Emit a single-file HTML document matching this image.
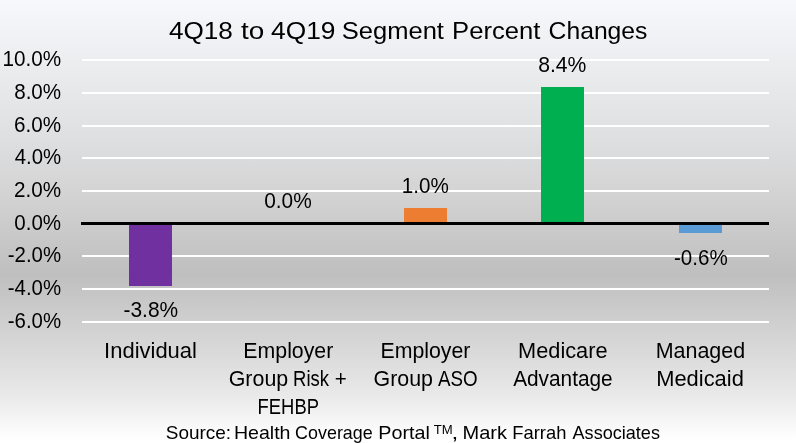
<!DOCTYPE html>
<html><head><meta charset="utf-8"><title>4Q18 to 4Q19 Segment Percent Changes</title>
<style>
html,body{margin:0;padding:0;}
body{width:796px;height:443px;overflow:hidden;background:#fff;}
svg{display:block;}
text{font-family:"Liberation Sans",sans-serif;fill:#000;}
</style></head><body>
<svg width="796" height="443" viewBox="0 0 796 443">
<defs>
<linearGradient id="bg" x1="0" y1="0" x2="0" y2="1">
<stop offset="0" stop-color="#f6f8fc"/>
<stop offset="0.18" stop-color="#e9eaec"/>
<stop offset="0.293" stop-color="#e0e1e2"/>
<stop offset="0.43" stop-color="#d4d4d5"/>
<stop offset="0.565" stop-color="#c5c5c5"/>
<stop offset="0.62" stop-color="#bfbfbf"/>
<stop offset="0.767" stop-color="#d5d5d5"/>
<stop offset="0.898" stop-color="#eaeaea"/>
<stop offset="0.992" stop-color="#ffffff"/>
<stop offset="1" stop-color="#ffffff"/>
</linearGradient>
</defs>
<rect x="0" y="0" width="796" height="443" fill="url(#bg)"/>
<g fill="#fff" shape-rendering="crispEdges"><rect x="82" y="59" width="687" height="2"/><rect x="82" y="92" width="687" height="2"/><rect x="82" y="125" width="687" height="2"/><rect x="82" y="157" width="687" height="2"/><rect x="82" y="190" width="687" height="2"/><rect x="82" y="255" width="687" height="2"/><rect x="82" y="288" width="687" height="2"/><rect x="82" y="321" width="687" height="2"/></g>
<g shape-rendering="crispEdges">
<rect x="129" y="223" width="43" height="63" fill="#7030a0"/>
<rect x="404" y="208" width="43" height="15" fill="#ed7d31"/>
<rect x="541" y="87" width="43" height="136" fill="#00b050"/>
<rect x="679" y="223" width="43" height="10" fill="#5b9bd5"/>
<rect x="81" y="222" width="688" height="3" fill="#000"/>
</g>
<text font-size="24.8"><tspan x="168.92" y="38.80" textLength="64.01" lengthAdjust="spacingAndGlyphs">4Q18</tspan> <tspan x="241.08" y="38.80" textLength="23.26" lengthAdjust="spacingAndGlyphs">to</tspan> <tspan x="271.02" y="38.80" textLength="64.42" lengthAdjust="spacingAndGlyphs">4Q19</tspan> <tspan x="341.75" y="38.80" textLength="102.21" lengthAdjust="spacingAndGlyphs">Segment</tspan> <tspan x="452.10" y="38.80" textLength="88.29" lengthAdjust="spacingAndGlyphs">Percent</tspan> <tspan x="548.56" y="38.80" textLength="98.92" lengthAdjust="spacingAndGlyphs">Changes</tspan></text>
<text x="2.43" y="66.40" font-size="21.4" textLength="58.71" lengthAdjust="spacingAndGlyphs">10.0%</text>
<text x="14.21" y="99.40" font-size="21.4" textLength="46.91" lengthAdjust="spacingAndGlyphs">8.0%</text>
<text x="14.07" y="132.40" font-size="21.4" textLength="47.06" lengthAdjust="spacingAndGlyphs">6.0%</text>
<text x="14.65" y="164.40" font-size="21.4" textLength="46.47" lengthAdjust="spacingAndGlyphs">4.0%</text>
<text x="14.07" y="197.40" font-size="21.4" textLength="47.06" lengthAdjust="spacingAndGlyphs">2.0%</text>
<text x="14.30" y="229.90" font-size="21.4" textLength="46.83" lengthAdjust="spacingAndGlyphs">0.0%</text>
<text x="7.80" y="262.40" font-size="21.4" textLength="53.32" lengthAdjust="spacingAndGlyphs">-2.0%</text>
<text x="7.80" y="295.40" font-size="21.4" textLength="53.32" lengthAdjust="spacingAndGlyphs">-4.0%</text>
<text x="7.80" y="328.40" font-size="21.4" textLength="53.32" lengthAdjust="spacingAndGlyphs">-6.0%</text>
<text x="123.48" y="316.50" font-size="21.4" textLength="54.66" lengthAdjust="spacingAndGlyphs">-3.8%</text>
<text x="264.19" y="207.70" font-size="21.4" textLength="47.55" lengthAdjust="spacingAndGlyphs">0.0%</text>
<text x="401.83" y="192.70" font-size="21.4" textLength="46.99" lengthAdjust="spacingAndGlyphs">1.0%</text>
<text x="538.19" y="71.80" font-size="21.4" textLength="48.26" lengthAdjust="spacingAndGlyphs">8.4%</text>
<text x="673.99" y="264.80" font-size="21.4" textLength="53.73" lengthAdjust="spacingAndGlyphs">-0.6%</text>
<text font-size="21.6"><tspan x="104.08" y="357.80" textLength="92.88" lengthAdjust="spacingAndGlyphs">Individual</tspan></text>
<text font-size="21.6"><tspan x="243.35" y="357.80" textLength="89.98" lengthAdjust="spacingAndGlyphs">Employer</tspan> <tspan x="228.73" y="385.50" textLength="59.45" lengthAdjust="spacingAndGlyphs">Group</tspan> <tspan x="293.08" y="385.50" textLength="35.99" lengthAdjust="spacingAndGlyphs">Risk</tspan> <tspan x="334.81" y="385.50" textLength="11.99" lengthAdjust="spacingAndGlyphs">+</tspan> <tspan x="257.59" y="413.50" textLength="61.37" lengthAdjust="spacingAndGlyphs">FEHBP</tspan></text>
<text font-size="21.6"><tspan x="380.45" y="357.80" textLength="89.98" lengthAdjust="spacingAndGlyphs">Employer</tspan> <tspan x="373.53" y="385.50" textLength="59.45" lengthAdjust="spacingAndGlyphs">Group</tspan> <tspan x="438.06" y="385.50" textLength="39.64" lengthAdjust="spacingAndGlyphs">ASO</tspan></text>
<text font-size="21.6"><tspan x="518.12" y="357.80" textLength="89.44" lengthAdjust="spacingAndGlyphs">Medicare</tspan> <tspan x="513.16" y="385.50" textLength="99.55" lengthAdjust="spacingAndGlyphs">Advantage</tspan></text>
<text font-size="21.6"><tspan x="655.64" y="357.80" textLength="89.53" lengthAdjust="spacingAndGlyphs">Managed</tspan> <tspan x="656.21" y="385.50" textLength="87.60" lengthAdjust="spacingAndGlyphs">Medicaid</tspan></text>
<text font-size="18.5"><tspan x="165.75" y="439.30" textLength="65.39" lengthAdjust="spacingAndGlyphs">Source:</tspan> <tspan x="233.90" y="439.30" textLength="56.57" lengthAdjust="spacingAndGlyphs">Health</tspan> <tspan x="295.11" y="439.30" textLength="77.58" lengthAdjust="spacingAndGlyphs">Coverage</tspan> <tspan x="378.38" y="439.30" textLength="51.53" lengthAdjust="spacingAndGlyphs">Portal</tspan> <tspan x="433.81" y="434.20" font-size="12" textLength="18.96" lengthAdjust="spacingAndGlyphs">TM</tspan><tspan x="451.64" y="439.30" textLength="6.74" lengthAdjust="spacingAndGlyphs">,</tspan> <tspan x="462.46" y="439.30" textLength="44.51" lengthAdjust="spacingAndGlyphs">Mark</tspan> <tspan x="512.29" y="439.30" textLength="54.09" lengthAdjust="spacingAndGlyphs">Farrah</tspan> <tspan x="572.56" y="439.30" textLength="87.40" lengthAdjust="spacingAndGlyphs">Associates</tspan></text>
</svg>
</body></html>
